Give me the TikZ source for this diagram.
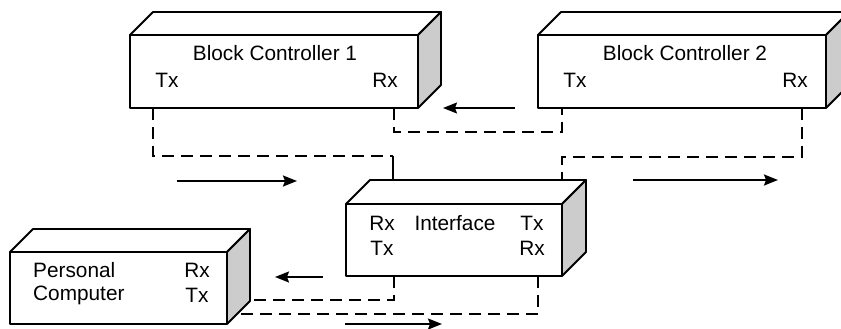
\documentclass[tikz,border=0pt]{standalone}
\usepackage{fontspec}
\setmainfont{Liberation Sans}
\usetikzlibrary{arrows.meta}
\tikzset{
  face/.style={draw, line width=1.8pt, fill=white, line join=round, outer sep=0pt, inner sep=0pt},
  sideface/.style={face, fill=black!20},
  wire/.style={line width=1.8pt},
  link/.style={wire, dash pattern=on 12pt off 7pt},
  flow/.style={wire, -{Stealth[length=14pt,width=11pt,inset=2pt]}},
  lbl/.style={font=\fontsize{20.8}{24}\selectfont, inner sep=0pt},
}
% top and right faces of a box whose front face is node #1, depth #2 (pt)
\newcommand\boxfaces[2]{%
  \draw[face] (#1.north west) -- ++(#2,-#2) -- ([xshift=#2pt,yshift=#2pt]#1.north east) -- (#1.north east) -- cycle;
  \draw[sideface] (#1.north east) -- ++(#2,-#2) -- ([xshift=#2pt,yshift=#2pt]#1.south east) -- (#1.south east) -- cycle;
}
\begin{document}
\begin{tikzpicture}[x=1pt,y=-1pt]
\useasboundingbox (0,0) rectangle (841,329);

% front faces
\node[face, minimum width=288pt, minimum height=73pt, anchor=north west] (bc1) at (130,35) {};
\node[face, minimum width=288pt, minimum height=73pt, anchor=north west] (bc2) at (538,35) {};
\node[face, minimum width=216pt, minimum height=72pt, anchor=north west] (intf) at (346,204) {};
\node[face, minimum width=217pt, minimum height=72pt, anchor=north west] (pc) at (10,252) {};
\boxfaces{bc1}{23}
\boxfaces{bc2}{23}
\boxfaces{intf}{24}
\boxfaces{pc}{23}

% labels
\node[lbl] (bc1title) at (275,53) {Block Controller 1};
\node[lbl] (bc1txl) at (167,80) {Tx};
\node[lbl] (bc1rxl) at (385,80) {Rx};
\node[lbl] (bc2title) at (685,53) {Block Controller 2};
\node[lbl] (bc2txl) at (575,80) {Tx};
\node[lbl] (bc2rxl) at (795,80) {Rx};
\node[lbl] (intfrxa) at (382,223) {Rx};
\node[lbl] (intftitle) at (455,223) {Interface};
\node[lbl] (intftxa) at (532,223) {Tx};
\node[lbl] (intftxb) at (382,248) {Tx};
\node[lbl] (intfrxb) at (532,248) {Rx};
\node[lbl, anchor=west] (pcname1) at (33,270) {Personal};
\node[lbl, anchor=west] (pcname2) at (33,295) {Computer};
\node[lbl] (pcrxl) at (197,270) {Rx};
\node[lbl] (pctxl) at (197,295) {Tx};

% ports
\coordinate (bc1-tx) at ([xshift=23pt]bc1.south west);
\coordinate (bc1-rx) at ([xshift=-24pt]bc1.south east);
\coordinate (bc2-tx) at ([xshift=24pt]bc2.south west);
\coordinate (bc2-rx) at ([xshift=-24pt]bc2.south east);
\coordinate (intf-top-l) at ([xshift=47pt,yshift=24pt]intf.north west);
\coordinate (intf-top-r) at ([yshift=24pt]intf.north east);
\coordinate (intf-bot-l) at ([xshift=48pt]intf.south west);
\coordinate (intf-bot-r) at ([xshift=-24pt]intf.south east);
\coordinate (pc-rx) at ([xshift=23pt,yshift=24pt]pc.south east);
\coordinate (pc-tx) at ([xshift=10pt,yshift=10pt]pc.south east);
\coordinate (bus-l) at (393,156);

% cabling
\draw[link] (bc1-tx) |- (bus-l);
\draw[wire] (bus-l) -- (intf-top-l);
\draw[link] (bc1-rx) -- ++(0,24) -| (bc2-tx);
\draw[link] (bc2-rx) -- ++(0,49) -| (intf-top-r);
\draw[link] (intf-bot-l) |- (pc-rx);
\draw[link] (intf-bot-r) |- (pc-tx);

% direction of data flow
\coordinate (f1a) at (515,108); \coordinate (f1b) at (443,108);
\coordinate (f2a) at (177,181); \coordinate (f2b) at (297,181);
\coordinate (f3a) at (633,180); \coordinate (f3b) at (778,180);
\coordinate (f4a) at (323,277); \coordinate (f4b) at (275,277);
\coordinate (f5a) at (345,324); \coordinate (f5b) at (442,324);
\draw[flow] (f1a) -- (f1b);
\draw[flow] (f2a) -- (f2b);
\draw[flow] (f3a) -- (f3b);
\draw[flow] (f4a) -- (f4b);
\draw[flow] (f5a) -- (f5b);
\end{tikzpicture}
\end{document}
